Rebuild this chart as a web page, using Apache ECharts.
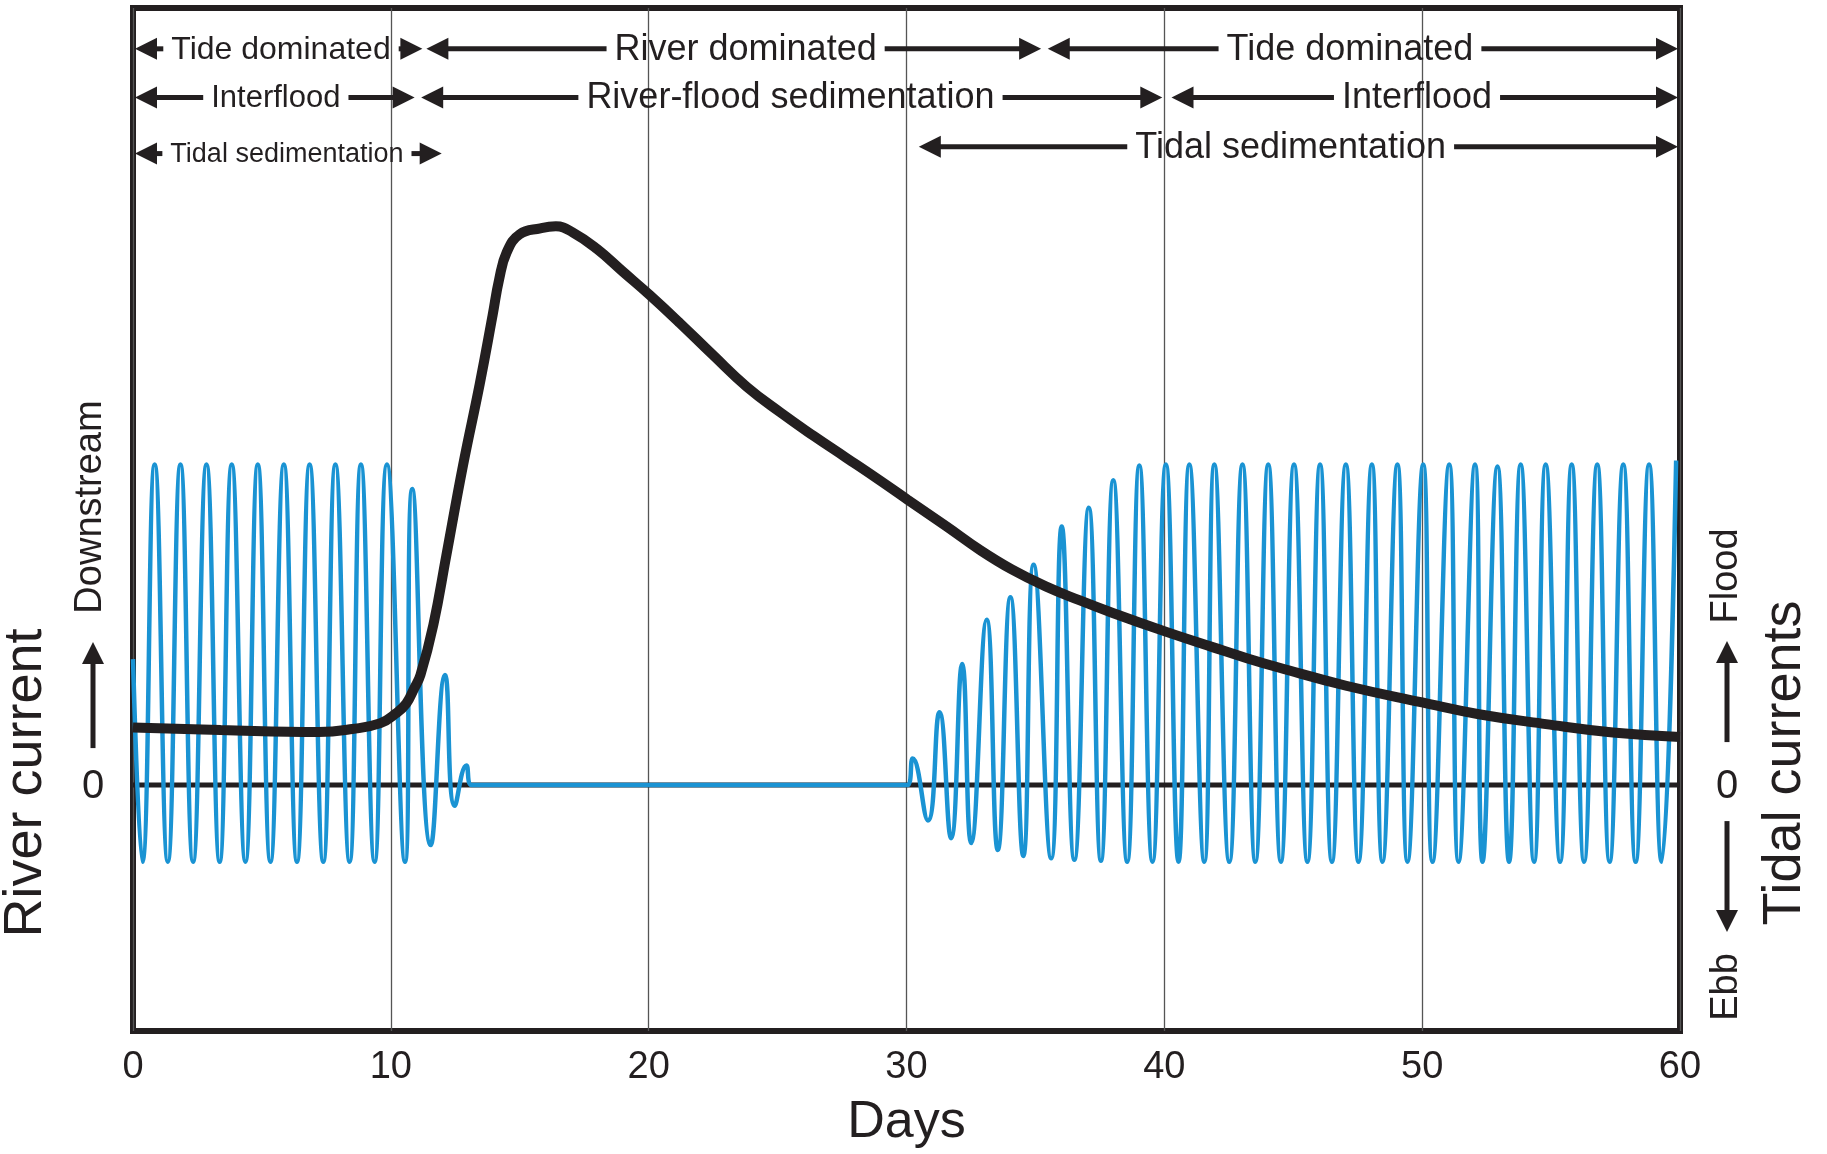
<!DOCTYPE html>
<html>
<head>
<meta charset="utf-8">
<script src="https://cdn.jsdelivr.net/npm/echarts@6/dist/echarts.min.js"></script>
<style>
  html, body { margin: 0; padding: 0; background: #fff; }
  #chart { width: 1827px; height: 1154px; }
</style>
</head>
<body>
<div id="chart"></div>
<script>
// ---------------- DATA ----------------
const xTicks = [0, 10, 20, 30, 40, 50, 60];

// River current (black curve): [day, relative value]
const riverCurrent = [
  [0, 5.85], [3.4, 5.6], [7.2, 5.4], [8.5, 5.7], [9.6, 6.3], [10.2, 7.3], [10.6, 8.3],
  [10.9, 9.8], [11.15, 11.2], [11.65, 16.3], [12.15, 23.3], [12.8, 32.5], [13.45, 40.8],
  [13.95, 47.8], [14.2, 51.4], [14.5, 54.2], [15.0, 56.0], [15.8, 56.6], [16.4, 56.8],
  [17.05, 56.2], [18.0, 54.5], [19.0, 52.2], [20.05, 49.8], [21.2, 47.0], [22.5, 43.7],
  [23.8, 40.5], [25.1, 37.9], [26.4, 35.5], [27.65, 33.3], [28.95, 31.0], [30.05, 29.0],
  [31.55, 26.3], [32.85, 23.9], [34.1, 21.9], [35.4, 20.2], [36.7, 18.8], [38.0, 17.5],
  [40.05, 15.6], [41.9, 14.0], [43.2, 12.9], [44.5, 11.9], [47.05, 10.1], [50.0, 8.4],
  [52.2, 7.2], [54.8, 6.2], [57.4, 5.35], [60, 4.9]
];

// Tidal currents (blue curve): extrema [day, relative value]
const tidalCurrent = [
  [0, 12.8],
  [0.36, -7.8], [0.84, 32.6], [1.35, -7.8], [1.84, 32.6], [2.33, -7.8], [2.85, 32.6],
  [3.36, -7.8], [3.83, 32.6], [4.36, -7.8], [4.84, 32.6], [5.33, -7.8], [5.85, 32.6],
  [6.36, -7.8], [6.85, 32.6], [7.38, -7.8], [7.85, 32.6], [8.4, -7.8], [8.84, 32.6],
  [9.37, -7.8], [9.85, 32.6], [10.55, -7.8], [10.83, 30.1], [11.55, -6.1], [12.1, 11.2],
  [12.48, -2.1], [12.93, 2.0], [13.13, 0],
  [30.03, 0],
  [30.24, 2.7], [30.83, -3.6], [31.28, 7.4], [31.73, -5.4], [32.16, 12.3], [32.51, -5.9],
  [33.11, 16.8], [33.54, -6.6], [34.03, 19.1], [34.53, -7.2], [34.93, 22.4], [35.61, -7.45],
  [36.02, 26.3], [36.51, -7.6], [37.07, 28.2], [37.54, -7.7], [38.02, 31.0], [38.56, -7.8],
  [39.03, 32.5], [39.54, -7.8], [40.06, 32.6], [40.55, -7.8], [40.97, 32.6], [41.55, -7.8],
  [41.94, 32.6], [42.52, -7.8], [43.03, 32.6], [43.53, -7.8], [44.03, 32.6], [44.52, -7.8],
  [45.03, 32.6], [45.55, -7.8], [46.04, 32.6], [46.5, -7.8], [47.04, 32.6], [47.53, -7.8],
  [48.05, 32.6], [48.46, -7.8], [49.04, 32.6], [49.43, -7.8], [50.04, 32.6], [50.4, -7.8],
  [51.05, 32.6], [51.41, -7.8], [52.05, 32.6], [52.34, -7.8], [52.92, 32.4], [53.37, -7.8],
  [53.82, 32.6], [54.34, -7.8], [54.79, 32.6], [55.35, -7.8], [55.8, 32.6], [56.28, -7.8],
  [56.79, 32.6], [57.27, -7.8], [57.8, 32.6], [58.28, -7.8], [58.8, 32.6], [59.29, -7.8],
  [59.85, 33.0]
];

const zeroLine = [[0, 0], [60, 0]];

// Phase annotations (arrows across the top)
const annoLabels = ['Tide dominated', 'River dominated', 'Tide dominated',
                    'Interflood', 'River-flood sedimentation', 'Interflood',
                    'Tidal sedimentation', 'Tidal sedimentation'];
const annoFrom  = [0, 11.3, 35.4, 0, 11.1, 40.2, 0, 30.4];
const annoTo    = [11.3, 35.3, 60, 11.0, 40.0, 60, 12.05, 60];
const annoAt    = [5.74, 23.76, 47.2, 5.54, 25.5, 49.8, 5.97, 44.9];
const annoLevel = [74.85, 74.85, 74.85, 69.9, 69.9, 69.9, 64.2, 64.9];
const annoFont  = [32, 36, 36, 31, 36, 36, 27, 36];

// ---------------- CHART ----------------
const INK = '#231f20';
const BLUE = '#1a93d3';
const FONT = '"Liberation Sans", Arial, sans-serif';

const measureCtx = document.createElement('canvas').getContext('2d');
function textWidth(t, size) {
  measureCtx.font = size + 'px ' + FONT;
  return measureCtx.measureText(t).width;
}

function renderAnno(params, api) {
  const i = params.dataIndex;
  const pL = api.coord([api.value(0), api.value(3)]);
  const pR = api.coord([api.value(1), api.value(3)]);
  const pC = api.coord([api.value(2), api.value(3)]);
  const y = pL[1];
  const size = annoFont[i];
  const w = textWidth(annoLabels[i], size);
  const AL = 22, AH = 11, GAP = 8, LW = 5;
  const tL = pC[0] - w / 2, tR = pC[0] + w / 2;
  const children = [];
  const xL = pL[0] + 2, xR = pR[0] - 2;
  if (tL - GAP > xL + AL - 1) {
    children.push({ type: 'line', shape: { x1: xL + AL - 1, y1: y, x2: tL - GAP, y2: y },
      style: { stroke: INK, lineWidth: LW } });
  }
  if (xR - AL + 1 > tR + GAP) {
    children.push({ type: 'line', shape: { x1: tR + GAP, y1: y, x2: xR - AL + 1, y2: y },
      style: { stroke: INK, lineWidth: LW } });
  }
  children.push({ type: 'polygon', shape: { points: [[xL, y], [xL + AL, y - AH], [xL + AL, y + AH]] },
    style: { fill: INK } });
  children.push({ type: 'polygon', shape: { points: [[xR, y], [xR - AL, y - AH], [xR - AL, y + AH]] },
    style: { fill: INK } });
  children.push({ type: 'text', x: pC[0], y: y + 1,
    style: { text: annoLabels[i], fontSize: size, fontFamily: FONT, fill: INK,
             align: 'center', verticalAlign: 'middle' } });
  return { type: 'group', children };
}

const chart = echarts.init(document.getElementById('chart'), null, { renderer: 'canvas' });

const option = {
  animation: false,
  backgroundColor: '#ffffff',
  grid: { left: 133, right: 147, top: 8, bottom: 117, show: true,
          borderColor: INK, borderWidth: 6, backgroundColor: 'transparent' },
  xAxis: {
    type: 'value', min: xTicks[0], max: xTicks[xTicks.length - 1], interval: 10,
    axisLine: { show: false }, axisTick: { show: false },
    axisLabel: { fontSize: 38, fontFamily: FONT, color: INK, margin: 18 },
    splitLine: { show: true, lineStyle: { color: '#555', width: 1.3 } },
    name: 'Days', nameLocation: 'middle', nameGap: 66,
    nameTextStyle: { fontSize: 52, fontFamily: FONT, color: INK }
  },
  yAxis: {
    type: 'value', min: -25, max: 79, show: false,
    splitLine: { show: false }
  },
  series: [
    { type: 'line', data: zeroLine, symbol: 'none', z: 2,
      lineStyle: { color: INK, width: 5 } },
    { type: 'line', data: tidalCurrent, symbol: 'none', smooth: 0.5, z: 3,
      lineStyle: { color: BLUE, width: 4.5 } },
    { type: 'line', data: riverCurrent, symbol: 'none', smooth: 0.45, z: 4,
      lineStyle: { color: INK, width: 10 } },
    { type: 'custom', z: 5, clip: false, renderItem: renderAnno,
      encode: { x: [0, 1, 2], y: 3 },
      data: annoLabels.map((t, i) => [annoFrom[i], annoTo[i], annoAt[i], annoLevel[i]]) }
  ]
};
chart.setOption(option);

// Side labels (decorations)
const y0 = chart.convertToPixel({ yAxisIndex: 0 }, 0);
function vText(text, x, y, size, rot) {
  return { type: 'text', x: x, y: y, rotation: rot === false ? 0 : Math.PI / 2, z: 10,
    style: { text, fontSize: size, fontFamily: FONT, fill: INK, align: 'center', verticalAlign: 'middle' } };
}
function vArrow(x, yFrom, yTip) {
  const dir = yTip < yFrom ? -1 : 1;
  const AL = 22, AH = 11;
  return [
    { type: 'line', z: 10, shape: { x1: x, y1: yFrom, x2: x, y2: yTip - dir * (AL - 2) },
      style: { stroke: INK, lineWidth: 5 } },
    { type: 'polygon', z: 10, shape: { points: [[x, yTip], [x - AH, yTip - dir * AL], [x + AH, yTip - dir * AL]] },
      style: { fill: INK } }
  ];
}
chart.setOption({
  graphic: [
    vText('River current', 26, 783, 54),
    vText('Downstream', 91, 507, 38),
    ...vArrow(93, y0 - 37, 642),
    vText('0', 93, y0 + 2, 40, false),
    vText('Flood', 1727, 576, 38),
    ...vArrow(1727, y0 - 43, 641),
    vText('0', 1727, y0 + 2, 40, false),
    ...vArrow(1727, y0 + 36, 932),
    vText('Ebb', 1727, 987, 38),
    vText('Tidal currents', 1785, 763, 54)
  ]
});
</script>
</body>
</html>
